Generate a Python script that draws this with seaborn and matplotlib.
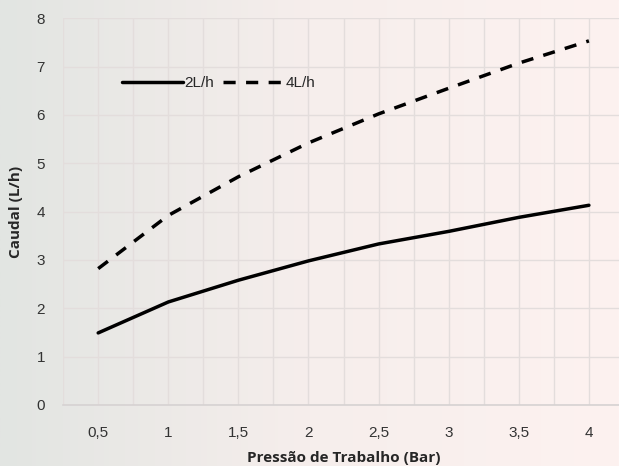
import numpy as np
import pandas as pd
import matplotlib
matplotlib.use("Agg")
import matplotlib.pyplot as plt
import seaborn as sns
from matplotlib.colors import LinearSegmentedColormap

pressao = [0.5, 1, 1.5, 2, 2.5, 3, 3.5, 4]
caudal_2 = [1.49, 2.13, 2.58, 2.98, 3.33, 3.59, 3.88, 4.13]
caudal_4 = [2.82, 3.92, 4.72, 5.42, 6.02, 6.55, 7.07, 7.53]
x_labels = ["0,5", "1", "1,5", "2", "2,5", "3", "3,5", "4"]

df = pd.DataFrame({
    "Pressao": pressao * 2,
    "Caudal": caudal_2 + caudal_4,
    "Serie": ["2L/h"] * len(pressao) + ["4L/h"] * len(pressao),
})

sns.set_style("white")
plt.rcParams['font.family'] = ['Liberation Sans', 'DejaVu Sans']

fig = plt.figure(figsize=(6.19, 4.66), dpi=100)

# background gradient (grey-green left -> pink right)
bg = fig.add_axes([0, 0, 1, 1], zorder=-10)
cmap = LinearSegmentedColormap.from_list("bg", ["#e2e5e2", "#f6eeec", "#fdf2f0"])
grad = np.linspace(0, 1, 256).reshape(1, -1)
bg.imshow(grad, aspect="auto", cmap=cmap, extent=[0, 1, 0, 1])
bg.axis("off")

ax = fig.add_axes([0.102, 0.131, 0.906, 0.830])
ax.patch.set_alpha(0)

sns.lineplot(data=df, x="Pressao", y="Caudal", hue="Serie", style="Serie",
             palette={"2L/h": "black", "4L/h": "black"},
             dashes={"2L/h": "", "4L/h": (3.5, 3)},
             linewidth=2.5, ax=ax)

ax.set_xlim(0.25, 4.25)
ax.set_ylim(0, 8)
ax.set_xticks(np.arange(0.25, 4.26, 0.25), minor=True)
ax.set_xticks(pressao)
ax.set_xticklabels(x_labels)
ax.set_yticks(range(0, 9))
ax.grid(which="minor", axis="x", color="#e3dddc", linewidth=1)
ax.grid(which="major", axis="both", color="#e3dddc", linewidth=1)
ax.tick_params(which="both", length=0, labelsize=11, colors="#333333")
ax.tick_params(axis="x", pad=15)
ax.tick_params(axis="y", pad=13)
for s in ["top", "right", "left"]:
    ax.spines[s].set_visible(False)
ax.spines["bottom"].set_color("#d6d2d2")
ax.spines["bottom"].set_linewidth(1.2)

ax.set_xlabel("Pressão de Trabalho (Bar)", fontsize=11, fontweight="bold",
              family=["Open Sans", "DejaVu Sans"], labelpad=8)
ax.set_ylabel("Caudal (L/h)", fontsize=11, fontweight="bold",
              family=["Open Sans", "DejaVu Sans"], labelpad=10)

ax.legend(loc="upper left", bbox_to_anchor=(0.08, 0.885), ncol=2, frameon=False,
          fontsize=11, handlelength=4, handletextpad=0.1, columnspacing=0.6,
          title=None)

fig.savefig("out.png", dpi=100)
